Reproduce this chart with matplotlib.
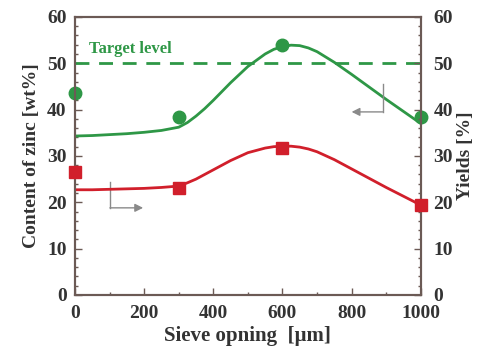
import numpy as np
import matplotlib
matplotlib.use("Agg")
import matplotlib.pyplot as plt
from matplotlib.ticker import MultipleLocator

# measured points
sieve = [0, 300, 600, 1000]
zinc = [43.5, 38.5, 54.0, 38.5]
yields = [26.5, 23.0, 31.8, 19.5]

# fitted trend curves
curve_x = [0, 50, 100, 150, 200, 250, 300, 325, 350, 375, 400, 450, 500,
           550, 575, 600, 625, 650, 675, 700, 750, 800, 850, 900, 950, 1000]
zinc_curve = [34.3, 34.4, 34.6, 34.8, 35.1, 35.5, 36.2, 37.2, 38.6, 40.2, 42.0,
              45.8, 49.3, 52.0, 53.0, 53.6, 53.9, 53.8, 53.3, 52.5, 50.2,
              47.6, 44.9, 42.2, 39.6, 37.0]
yield_curve = [22.7, 22.7, 22.8, 22.9, 23.0, 23.2, 23.5, 24.2, 25.0, 26.0, 27.0,
               29.0, 30.7, 31.7, 32.0, 32.1, 32.1, 31.9, 31.5, 30.9, 29.2,
               27.2, 25.2, 23.2, 21.3, 19.4]
target = 50

green = "#2e9746"
red = "#d11f2b"
spine = "#6b5a55"
txt = "#333333"

plt.rcParams["font.family"] = ["Liberation Serif", "DejaVu Serif"]
plt.rcParams["font.weight"] = "bold"

fig = plt.figure(figsize=(4.87, 3.52), dpi=100)
ax = fig.add_axes([0.154, 0.162, 0.710, 0.790])
ax2 = ax.twinx()

ax.plot(curve_x, zinc_curve, color=green, lw=2)
ax.plot(sieve, zinc, "o", color=green, ms=9, clip_on=False, zorder=5)
ax.axhline(target, color=green, lw=2, ls=(0, (5, 3.5)))
ax.text(40, 52.3, "Target level", color=green, fontsize=12, fontweight="bold")

ax2.plot(curve_x, yield_curve, color=red, lw=2)
ax2.plot(sieve, yields, "s", color=red, ms=9, clip_on=False, zorder=5)

# pointer arrows
arr = "#8a8a8a"
ax.plot([890, 890], [45.6, 39.5], color=arr, lw=1)
ax.annotate("", xy=(800, 39.5), xytext=(890, 39.5),
            arrowprops=dict(arrowstyle="-|>", color=arr, lw=1, mutation_scale=12,
                            shrinkA=0, shrinkB=0))
ax.plot([101, 101], [24.4, 18.8], color=arr, lw=1)
ax.annotate("", xy=(197, 18.8), xytext=(101, 18.8),
            arrowprops=dict(arrowstyle="-|>", color=arr, lw=1, mutation_scale=12,
                            shrinkA=0, shrinkB=0))

for a in (ax, ax2):
    a.set_xlim(0, 1000)
    a.set_ylim(0, 60)
    a.yaxis.set_major_locator(MultipleLocator(10))
    a.yaxis.set_minor_locator(MultipleLocator(2))
    a.tick_params(which="both", direction="in", colors=spine, labelcolor=txt,
                  labelsize=14, width=1)
    a.tick_params(which="major", length=5)
    a.tick_params(which="minor", length=2.5)
    for s in a.spines.values():
        s.set_color(spine)
        s.set_linewidth(1.5)
ax.xaxis.set_major_locator(MultipleLocator(200))
ax.xaxis.set_minor_locator(MultipleLocator(100))
ax.tick_params(top=False, pad=6)
ax.tick_params(axis="x", pad=7)
ax2.tick_params(pad=9)

ax.set_xlabel("Sieve opning  [\u03bcm]", fontsize=15, fontweight="bold", color=txt,
              labelpad=3)
ax.set_ylabel("Content of zinc [wt%]", fontsize=14, fontweight="bold", color=txt,
              labelpad=5)
ax2.set_ylabel("Yields [%]", fontsize=14, fontweight="bold", color=txt, labelpad=3)

fig.savefig("out.png", dpi=100)
